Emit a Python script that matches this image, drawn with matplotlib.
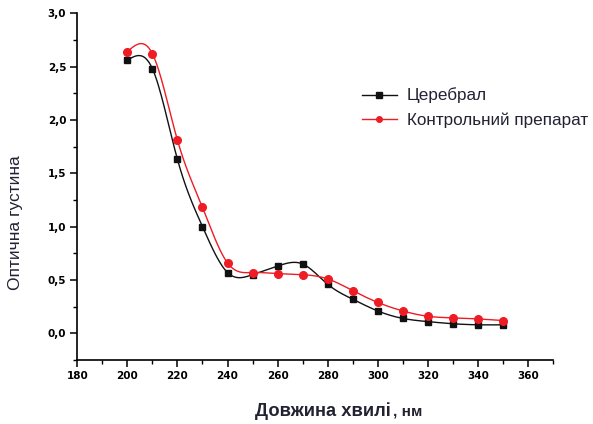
import numpy as np
import matplotlib
matplotlib.use("Agg")
import matplotlib.pyplot as plt
from matplotlib.ticker import MultipleLocator, FuncFormatter

wavelength = [200, 210, 220, 230, 240, 250, 260, 270, 280, 290, 300, 310, 320, 330, 340, 350]
cerebral = [2.56, 2.48, 1.63, 1.00, 0.57, 0.55, 0.63, 0.65, 0.46, 0.32, 0.21, 0.14, 0.11, 0.09, 0.08, 0.08]
control = [2.64, 2.62, 1.81, 1.18, 0.66, 0.57, 0.56, 0.55, 0.51, 0.40, 0.29, 0.21, 0.16, 0.145, 0.135, 0.12]
series_names = ["Церебрал", "Контрольний препарат"]
x_ticks = [180, 200, 220, 240, 260, 280, 300, 320, 340, 360]
y_ticks = [0.0, 0.5, 1.0, 1.5, 2.0, 2.5, 3.0]


def natural_spline(x, y, n=400):
    x = np.asarray(x, float); y = np.asarray(y, float)
    k = len(x); h = np.diff(x)
    A = np.zeros((k, k)); b = np.zeros(k)
    A[0, 0] = A[-1, -1] = 1
    for i in range(1, k - 1):
        A[i, i - 1] = h[i - 1]; A[i, i] = 2 * (h[i - 1] + h[i]); A[i, i + 1] = h[i]
        b[i] = 3 * ((y[i + 1] - y[i]) / h[i] - (y[i] - y[i - 1]) / h[i - 1])
    c = np.linalg.solve(A, b)
    xs = np.linspace(x[0], x[-1], n)
    idx = np.clip(np.searchsorted(x, xs) - 1, 0, k - 2)
    d = xs - x[idx]
    bb = (y[idx + 1] - y[idx]) / h[idx] - h[idx] * (2 * c[idx] + c[idx + 1]) / 3
    dd = (c[idx + 1] - c[idx]) / (3 * h[idx])
    return xs, y[idx] + bb * d + c[idx] * d ** 2 + dd * d ** 3


fig = plt.figure(figsize=(5.93, 4.24), dpi=100)
ax = fig.add_axes([0.1304, 0.1509, 0.802, 0.818])

black = "#111111"
red = "#ee1c25"
txtc = "#222233"

for vals, col, mk, ms, name in [(cerebral, black, "s", 5.0, series_names[0]),
                                 (control, red, "o", 5.5, series_names[1])]:
    xs, ys = natural_spline(wavelength, vals)
    ax.plot(xs, ys, color=col, lw=1.0, zorder=2)
    ax.plot(wavelength, vals, ls="none", marker=mk, ms=ms, color=col, zorder=3)
    ax.plot([], [], color=col, lw=1.0, marker=mk, ms=4, label=name)

ax.set_xlim(180, 370)
ax.set_ylim(-0.25, 3.0)
ax.set_xticks(x_ticks)
ax.set_yticks(y_ticks)
ax.xaxis.set_minor_locator(MultipleLocator(10))
ax.yaxis.set_minor_locator(MultipleLocator(0.25))
ax.yaxis.set_major_formatter(FuncFormatter(lambda v, p: f"{v:.1f}".replace(".", ",")))
for s in ["top", "right"]:
    ax.spines[s].set_visible(False)
for s in ["left", "bottom"]:
    ax.spines[s].set_linewidth(1.2)
ax.tick_params(which="major", direction="out", length=5, width=1.1, pad=3)
ax.tick_params(which="minor", direction="out", length=3, width=1.0)
for lab in ax.get_xticklabels() + ax.get_yticklabels():
    lab.set_fontfamily("DejaVu Sans")
    lab.set_fontweight("heavy")
    lab.set_fontsize(7.5)

fig.text(15.5 / 593, 1 - 223 / 424, "Оптична густина", rotation=90, ha="center", va="center",
         fontfamily="Liberation Sans", fontsize=12.5, color=txtc)
fig.text(391 / 593, 1 - 411 / 424, "Довжина хвилі", ha="right", va="center",
         fontfamily="Liberation Sans", fontweight="bold", fontsize=13.2, color=txtc)
fig.text(393 / 593, 1 - 412 / 424, ", нм", ha="left", va="center",
         fontfamily="Liberation Sans", fontweight="bold", fontsize=11, color=txtc)

leg = ax.legend(loc="upper left", bbox_to_anchor=(0.585, 0.805), frameon=False,
                prop={"family": "Liberation Sans", "size": 12.3}, handlelength=2.0,
                handletextpad=0.6, labelspacing=0.5, borderaxespad=0)
for t in leg.get_texts():
    t.set_color(txtc)

fig.savefig("out.png", dpi=100)
